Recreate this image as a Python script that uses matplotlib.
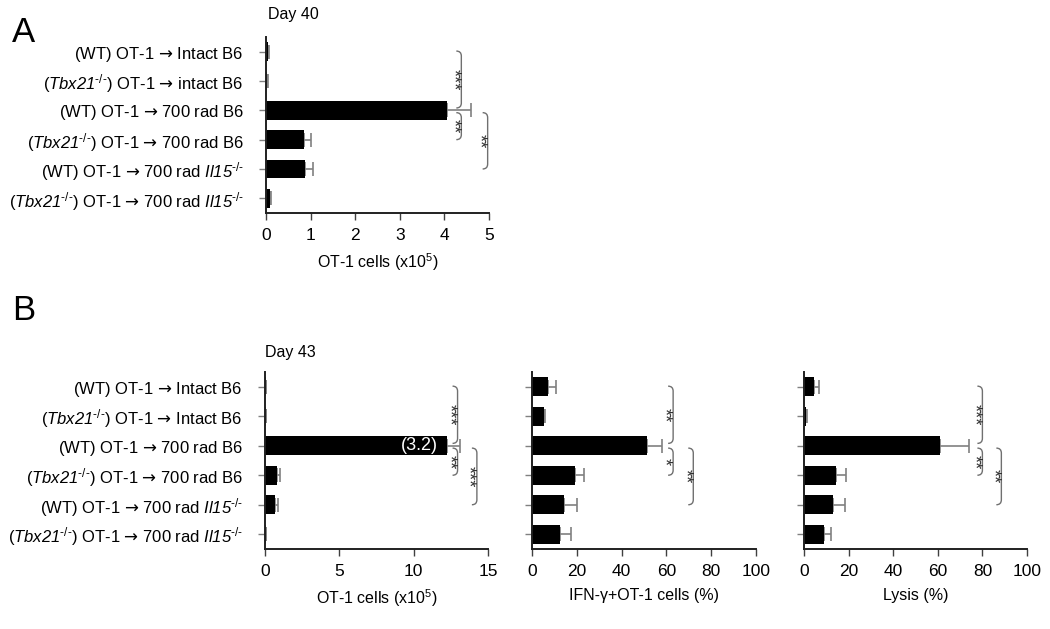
import numpy as np
import matplotlib
matplotlib.use('Agg')
import matplotlib.pyplot as plt
from matplotlib.path import Path
from matplotlib.patches import PathPatch

plt.rcParams['font.family'] = ['Liberation Sans', 'DejaVu Sans']
plt.rcParams['mathtext.fontset'] = 'custom'
plt.rcParams['mathtext.rm'] = 'Liberation Sans'
plt.rcParams['mathtext.it'] = 'Liberation Sans:italic'
plt.rcParams['mathtext.sf'] = 'Liberation Sans:italic'
plt.rcParams['mathtext.cal'] = 'DejaVu Sans'

# data
TBX = r'$\mathsf{Tbx21}^{\text{-/-}}$'
IL15 = r'$\mathsf{Il15}^{\text{-/-}}$'
ARROW = r'$\mathcal{→}$'
labels_a = [
    '(WT) OT-1 ' + ARROW + ' Intact B6',
    '(' + TBX + ') OT-1 ' + ARROW + ' intact B6',
    '(WT) OT-1 ' + ARROW + ' 700 rad B6',
    '(' + TBX + ') OT-1 ' + ARROW + ' 700 rad B6',
    '(WT) OT-1 ' + ARROW + ' 700 rad ' + IL15,
    '(' + TBX + ') OT-1 ' + ARROW + ' 700 rad ' + IL15,
]
labels_b = list(labels_a)
labels_b[1] = '(' + TBX + ') OT-1 ' + ARROW + ' Intact B6'

cells_d40 = [0.04, 0.03, 4.05, 0.85, 0.87, 0.09]
cells_d40_err = [0.03, 0.02, 0.55, 0.17, 0.18, 0.03]

cells_d43 = [0.05, 0.05, 12.25, 0.8, 0.65, 0.05]
cells_d43_err = [0.02, 0.02, 0.85, 0.2, 0.25, 0.02]

ifng_d43 = [7.3, 5.2, 51.5, 19.0, 14.1, 12.6]
ifng_d43_err = [3.4, 0.6, 6.5, 4.0, 6.2, 4.6]

lysis_d43 = [4.5, 1.0, 60.8, 14.5, 13.0, 9.0]
lysis_d43_err = [2.2, 0.3, 13.2, 4.5, 5.2, 3.0]

# brackets: (row from, row to, x position, stars)
brackets_a = [(0, 2, 4.38, '***'), (2, 3, 4.38, '**'), (2, 4, 4.97, '**')]
brackets_b1 = [(0, 2, 12.95, '***'), (2, 3, 12.95, '**'), (2, 4, 14.25, '***')]
brackets_b2 = [(0, 2, 63, '**'), (2, 3, 63, '*'), (2, 4, 72, '**')]
brackets_b3 = [(0, 2, 80, '***'), (2, 3, 80, '**'), (2, 4, 88.5, '**')]


def draw_bars(ax, vals, errs, xmax, xticks, xlabel, ylabels=None):
    """Horizontal bar chart with one sided error bars."""
    rows = np.arange(len(vals))
    ax.barh(rows, vals, height=0.64, color='black', zorder=2)
    ax.errorbar(vals, rows, xerr=[np.zeros(len(errs)), errs], fmt='none',
                ecolor='#808080', elinewidth=1.2, capsize=5, capthick=1.2,
                zorder=1)
    ax.set_xlim(0, xmax)
    ax.set_ylim(5.5, -0.5)
    ax.set_xticks(xticks)
    ax.set_yticks(rows)
    if ylabels is None:
        ax.set_yticklabels([])
    else:
        ax.set_yticklabels(ylabels)
    ax.set_xlabel(xlabel, fontsize=11.5, labelpad=6)
    for side in ('top', 'right'):
        ax.spines[side].set_visible(False)
    for side in ('left', 'bottom'):
        ax.spines[side].set_linewidth(1.4)
        ax.spines[side].set_color('#202020')
    ax.tick_params(axis='x', length=5, width=1, color='#404040', pad=6,
                   labelsize=12.5)
    ax.tick_params(axis='y', length=5, width=1, color='#808080', pad=11,
                   labelsize=12)


def draw_brace(ax, r0, r1, x, stars):
    """Right-hand curly bracket between two rows, stars left of it."""
    x0, x1 = ax.get_xlim()
    dx = (x1 - x0) * 5.0 / 223.0
    dy = 0.17
    y0, y1 = r0 - 0.02, r1 - 0.08
    if r0 == 2:
        y0 = r0 + 0.08
        y1 = r1 + 0.0
    verts = [(x - dx, y0), (x, y0), (x, y0 + dy), (x, y1 - dy), (x, y1),
             (x - dx, y1)]
    codes = [Path.MOVETO, Path.CURVE3, Path.CURVE3, Path.LINETO,
             Path.CURVE3, Path.CURVE3]
    ax.add_patch(PathPatch(Path(verts, codes), fill=False, ec='#707070',
                           lw=1.0, clip_on=False))
    ax.text(x - 1.8 * dx, (y0 + y1) / 2, stars, rotation=270, ha='center',
            va='center', fontsize=13, color='#303030', clip_on=False)


fig = plt.figure(figsize=(10.5, 6.29), dpi=100)

ax_a = fig.add_axes([0.2533, 0.6614, 0.2124, 0.2798])
draw_bars(ax_a, cells_d40, cells_d40_err, 5, range(6),
          r'OT-1 cells (x10$^5$)', labels_a)
for br in brackets_a:
    draw_brace(ax_a, *br)

ax_b1 = fig.add_axes([0.2524, 0.1272, 0.2124, 0.2814])
draw_bars(ax_b1, cells_d43, cells_d43_err, 15, [0, 5, 10, 15],
          r'OT-1 cells (x10$^5$)', labels_b)
ax_b1.text(cells_d43[2] - 0.6, 2, '(3.2)', color='white', ha='right',
           va='center', fontsize=13)
for br in brackets_b1:
    draw_brace(ax_b1, *br)

ax_b2 = fig.add_axes([0.5067, 0.1272, 0.2133, 0.2814])
draw_bars(ax_b2, ifng_d43, ifng_d43_err, 100, range(0, 101, 20),
          'IFN-γ+OT-1 cells (%)')
for br in brackets_b2:
    draw_brace(ax_b2, *br)

ax_b3 = fig.add_axes([0.7657, 0.1272, 0.2124, 0.2814])
draw_bars(ax_b3, lysis_d43, lysis_d43_err, 100, range(0, 101, 20),
          'Lysis (%)')
for br in brackets_b3:
    draw_brace(ax_b3, *br)

fig.text(12 / 1050, 1 - 33 / 629, 'A', fontsize=25, va='center')
fig.text(12 / 1050, 1 - 311 / 629, 'B', fontsize=25, va='center')
fig.text(268 / 1050, 1 - 15 / 629, 'Day 40', fontsize=11.5, va='center')
fig.text(265 / 1050, 1 - 353 / 629, 'Day 43', fontsize=11.5, va='center')

fig.savefig('out.png', dpi=100)
